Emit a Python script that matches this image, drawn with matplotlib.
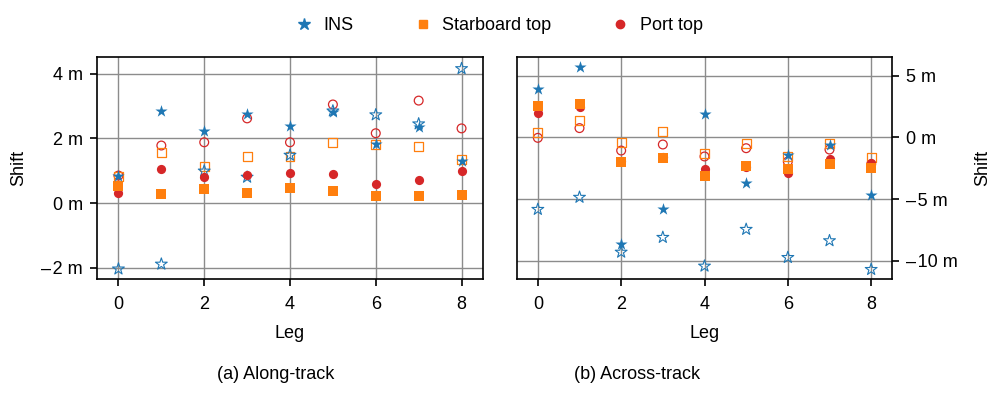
import numpy as np
import matplotlib.pyplot as plt
from matplotlib.ticker import FuncFormatter
from matplotlib.lines import Line2D

plt.rcParams['font.family'] = ['Liberation Sans', 'DejaVu Sans']
plt.rcParams['font.size'] = 13

legs = np.arange(9)

# along-track shift [m]; filled = first estimate, open = second estimate
along_ins = [0.83, 2.84, 2.22, 2.74, 2.39, 2.81, 1.82, 2.34, 1.29]
along_ins_open = [-2.04, -1.89, 0.99, 0.80, 1.48, 2.85, 2.73, 2.45, 4.16]
along_stb = [0.52, 0.29, 0.42, 0.32, 0.47, 0.38, 0.21, 0.22, 0.24]
along_stb_open = [0.83, 1.57, 1.12, 1.43, 1.45, 1.88, 1.80, 1.76, 1.34]
along_port = [0.30, 1.04, 0.80, 0.88, 0.93, 0.91, 0.59, 0.71, 0.98]
along_port_open = [0.85, 1.78, 1.88, 2.62, 1.88, 3.05, 2.16, 3.17, 2.31]

# across-track shift [m]
across_ins = [3.96, 5.69, -8.67, -5.83, 1.90, -3.71, -1.46, -0.65, -4.66]
across_ins_open = [-5.83, -4.85, -9.30, -8.10, -10.43, -7.45, -9.73, -8.37, -10.70]
across_stb = [2.52, 2.71, -1.98, -1.63, -3.09, -2.28, -2.55, -2.17, -2.44]
across_stb_open = [0.41, 1.36, -0.41, 0.51, -1.27, -0.46, -1.54, -0.46, -1.60]
across_port = [2.01, 2.44, -1.90, -1.60, -2.52, -2.38, -2.87, -1.73, -2.09]
across_port_open = [-0.03, 0.76, -1.06, -0.57, -1.54, -0.87, -1.95, -0.98, -2.17]

c_ins = '#1f77b4'
c_stb = '#ff7f0e'
c_port = '#d62728'


def fmt_m(v, pos):
    s = f"{v:g}"
    if s.startswith('-'):
        s = '\u2013\u200a' + s[1:]
    return s + ' m'


def draw(ax, ins, ins_o, stb, stb_o, port, port_o):
    ax.scatter(legs, port_o, s=40, marker='o', facecolors='none', edgecolors=c_port, linewidths=0.9, zorder=3)
    ax.scatter(legs, stb_o, s=40, marker='s', facecolors='none', edgecolors=c_stb, linewidths=0.9, zorder=3)
    ax.scatter(legs, ins_o, s=80, marker='*', facecolors='none', edgecolors=c_ins, linewidths=0.8, zorder=3)
    ax.scatter(legs, port, s=44, marker='o', color=c_port, linewidths=0, zorder=4)
    ax.scatter(legs, stb, s=42, marker='s', color=c_stb, linewidths=0, zorder=4)
    ax.scatter(legs, ins, s=85, marker='*', color=c_ins, linewidths=0, zorder=4)
    ax.set_xlim(-0.5, 8.5)
    ax.set_xticks([0, 2, 4, 6, 8])
    ax.grid(True, color='#8c8c8c', linewidth=1.0)
    ax.set_axisbelow(True)
    ax.set_xlabel('Leg', labelpad=9)
    ax.tick_params(direction='out', length=5, width=1.2, pad=5)
    ax.tick_params(axis='x', pad=7)
    ax.yaxis.set_major_formatter(FuncFormatter(fmt_m))
    for sp in ax.spines.values():
        sp.set_linewidth(1.2)


fig = plt.figure(figsize=(10, 3.96), dpi=100)
ax1 = fig.add_axes([0.097, 0.2947, 0.386, 0.5606])
ax2 = fig.add_axes([0.517, 0.2947, 0.375, 0.5606])

draw(ax1, along_ins, along_ins_open, along_stb, along_stb_open, along_port, along_port_open)
ax1.set_ylim(-2.36, 4.51)
ax1.set_yticks([-2, 0, 2, 4])
ax1.set_ylabel('Shift', labelpad=10)

draw(ax2, across_ins, across_ins_open, across_stb, across_stb_open, across_port, across_port_open)
ax2.set_ylim(-11.5, 6.5)
ax2.set_yticks([-10, -5, 0, 5])
ax2.yaxis.tick_right()
ax2.yaxis.set_label_position('right')
ax2.set_ylabel('Shift', labelpad=12)

handles = [
    Line2D([], [], linestyle='none', marker='*', color=c_ins, markersize=9),
    Line2D([], [], linestyle='none', marker='s', color=c_stb, markersize=6),
    Line2D([], [], linestyle='none', marker='o', color=c_port, markersize=6),
]
fig.legend(handles, ['INS', 'Starboard top', 'Port top'], loc='center', bbox_to_anchor=(0.499, 0.935),
           ncol=3, frameon=False, fontsize=13, columnspacing=3.3, handlelength=1.0, handletextpad=0.6)

fig.text(0.276, 0.055, '(a) Along-track', ha='center', va='center', fontsize=13)
fig.text(0.637, 0.055, '(b) Across-track', ha='center', va='center', fontsize=13)

fig.savefig('out.png', dpi=100)
